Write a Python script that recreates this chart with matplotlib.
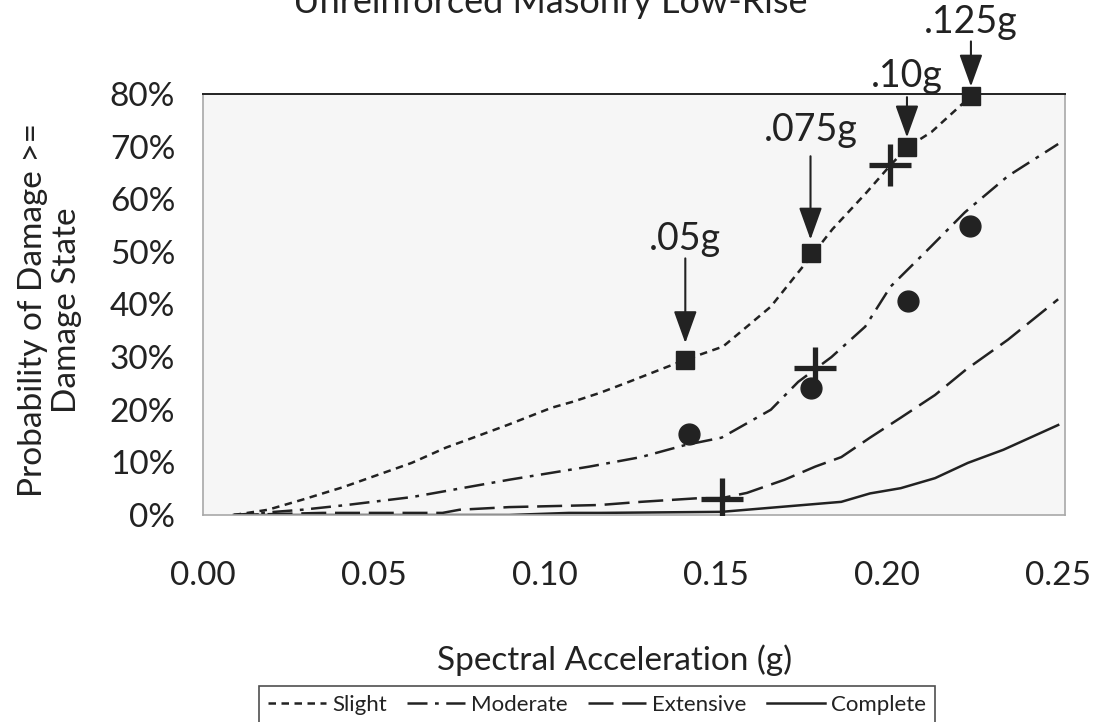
import matplotlib
matplotlib.use("Agg")
import matplotlib.pyplot as plt

plt.rcParams['font.family'] = ['Lato', 'DejaVu Sans']
plt.rcParams['font.weight'] = 'normal'

# ---------------- data ----------------
slight_x = [0.009, 0.019, 0.029, 0.041, 0.061, 0.071, 0.079, 0.089, 0.102, 0.108,
            0.116, 0.1245, 0.141, 0.152, 0.157, 0.166, 0.174, 0.1776, 0.184, 0.194,
            0.201, 0.206, 0.213, 0.2245]
slight_y = [0.0, 0.01, 0.029, 0.053, 0.099, 0.128, 0.147, 0.171, 0.204, 0.215,
            0.232, 0.253, 0.295, 0.32, 0.347, 0.396, 0.461, 0.49, 0.543, 0.613,
            0.665, 0.699, 0.728, 0.796]

moderate_x = [0.009, 0.029, 0.042, 0.061, 0.0895, 0.113, 0.128, 0.141, 0.1516, 0.166,
              0.174, 0.1837, 0.1936, 0.201, 0.2128, 0.2227, 0.2353, 0.25]
moderate_y = [0.0, 0.01, 0.019, 0.034, 0.067, 0.092, 0.11, 0.133, 0.147, 0.2,
              0.253, 0.30, 0.358, 0.434, 0.51, 0.575, 0.644, 0.705]

extensive_x = [0.009, 0.035, 0.07, 0.075, 0.0895, 0.116, 0.128, 0.145, 0.1516, 0.159,
               0.170, 0.179, 0.1866, 0.195, 0.204, 0.214, 0.223, 0.2353, 0.25]
extensive_y = [0.0, 0.004, 0.004, 0.01, 0.015, 0.019, 0.025, 0.032, 0.032, 0.042,
               0.067, 0.092, 0.11, 0.147, 0.185, 0.228, 0.276, 0.333, 0.41]

complete_x = [0.009, 0.0895, 0.107, 0.116, 0.1516, 0.1866, 0.195, 0.204, 0.214,
              0.2236, 0.234, 0.25]
complete_y = [0.0, 0.0, 0.004, 0.004, 0.006, 0.025, 0.041, 0.051, 0.07,
              0.099, 0.124, 0.171]

square_x = [0.141, 0.1776, 0.2058, 0.2245]
square_y = [0.295, 0.497, 0.699, 0.797]
square_labels = ['.05g', '.075g', '.10g', '.125g']

circle_x = [0.142, 0.1776, 0.206, 0.2242]
circle_y = [0.154, 0.242, 0.406, 0.549]

cross_x = [0.1516, 0.179, 0.2009]
cross_y = [0.03, 0.28, 0.665]

x_ticks = [0.0, 0.05, 0.10, 0.15, 0.20, 0.25]
x_tick_labels = ['0.00', '0.05', '0.10', '0.15', '0.20', '0.25']
y_ticks = [0.0, 0.1, 0.2, 0.3, 0.4, 0.5, 0.6, 0.7, 0.8]
y_tick_labels = ['0%', '10%', '20%', '30%', '40%', '50%', '60%', '70%', '80%']

# ---------------- figure ----------------
W, H = 1101, 722
fig = plt.figure(figsize=(W / 100, H / 100), dpi=100)
fig.patch.set_facecolor('white')
ax = fig.add_axes([203 / W, 1 - 515 / H, 862 / W, 421 / H])
ax.set_facecolor('#f6f6f6')

ink = '#222222'
lw = 1.8
l1, = ax.plot(slight_x, slight_y, color=ink, lw=lw, dashes=(3, 2.2), label='Slight')
l2, = ax.plot(moderate_x, moderate_y, color=ink, lw=lw, dashes=(8, 3, 1.5, 3), label='Moderate')
l3, = ax.plot(extensive_x, extensive_y, color=ink, lw=lw, dashes=(10, 3.5), label='Extensive')
l4, = ax.plot(complete_x, complete_y, color=ink, lw=lw, label='Complete')

ax.plot(square_x, square_y, ls='none', marker='s', ms=13, color=ink, clip_on=False, zorder=5)
ax.plot(circle_x, circle_y, ls='none', marker='o', ms=15, color=ink, zorder=5)
ax.plot(cross_x, cross_y, ls='none', marker='+', ms=30, mew=3.8, color=ink, zorder=5)

# arrows with labels (offsets in points)
tip_off = [12, 10, 7, 6.5]
tail_off = [73, 70, 36, 39]
text_off = [79, 81, 43, 45]
for x, y, lab, tp, tl, tx in zip(square_x, square_y, square_labels, tip_off, tail_off, text_off):
    ax.annotate('', xy=(x, y), xycoords='data', xytext=(0, tl), textcoords='offset points',
                arrowprops=dict(arrowstyle='-|>,head_length=1.0,head_width=0.36',
                                mutation_scale=20, lw=1.5, color=ink,
                                shrinkA=0, shrinkB=tp),
                annotation_clip=False)
    ax.annotate(lab, xy=(x, y), xycoords='data', xytext=(0, tx), textcoords='offset points',
                ha='center', va='baseline', fontsize=27, color=ink, annotation_clip=False)

ax.set_xlim(0, 0.252)
ax.set_ylim(0, 0.8)
ax.set_xticks(x_ticks)
ax.set_xticklabels(x_tick_labels)
ax.set_yticks(y_ticks)
ax.set_yticklabels(y_tick_labels)
ax.tick_params(axis='x', length=0, pad=33, labelsize=24, labelcolor=ink)
ax.tick_params(axis='y', length=0, pad=20, labelsize=24, labelcolor=ink)

for s in ['left', 'bottom', 'right']:
    ax.spines[s].set_color('#a8a8a8')
    ax.spines[s].set_linewidth(1.2)
ax.spines['top'].set_color(ink)
ax.spines['top'].set_linewidth(1.4)

fig.text(0.5, 1 - 13 / H, 'Unreinforced Masonry Low-Rise', ha='center', va='baseline',
         fontsize=26, color=ink)
fig.text(50 / W, 1 - 310 / H, 'Probability of Damage >=\nDamage State', rotation=90,
         ha='center', va='center', multialignment='center', fontsize=24, color=ink,
         linespacing=1.2)
fig.text(615 / W, 1 - 660 / H, 'Spectral Acceleration (g)', ha='center', va='center',
         fontsize=24, color=ink)

leg = fig.legend(handles=[l1, l2, l3, l4], loc='upper center',
                 bbox_to_anchor=(597 / W, 1 - 686 / H), bbox_transform=fig.transFigure,
                 ncol=4, fontsize=16, frameon=True, fancybox=False, edgecolor=ink,
                 handlelength=2.6, handletextpad=0.3, columnspacing=0.9, borderpad=0.4,
                 borderaxespad=0)
leg.get_frame().set_linewidth(1.2)
for t in leg.get_texts():
    t.set_color(ink)

fig.savefig('out.png', dpi=100)
